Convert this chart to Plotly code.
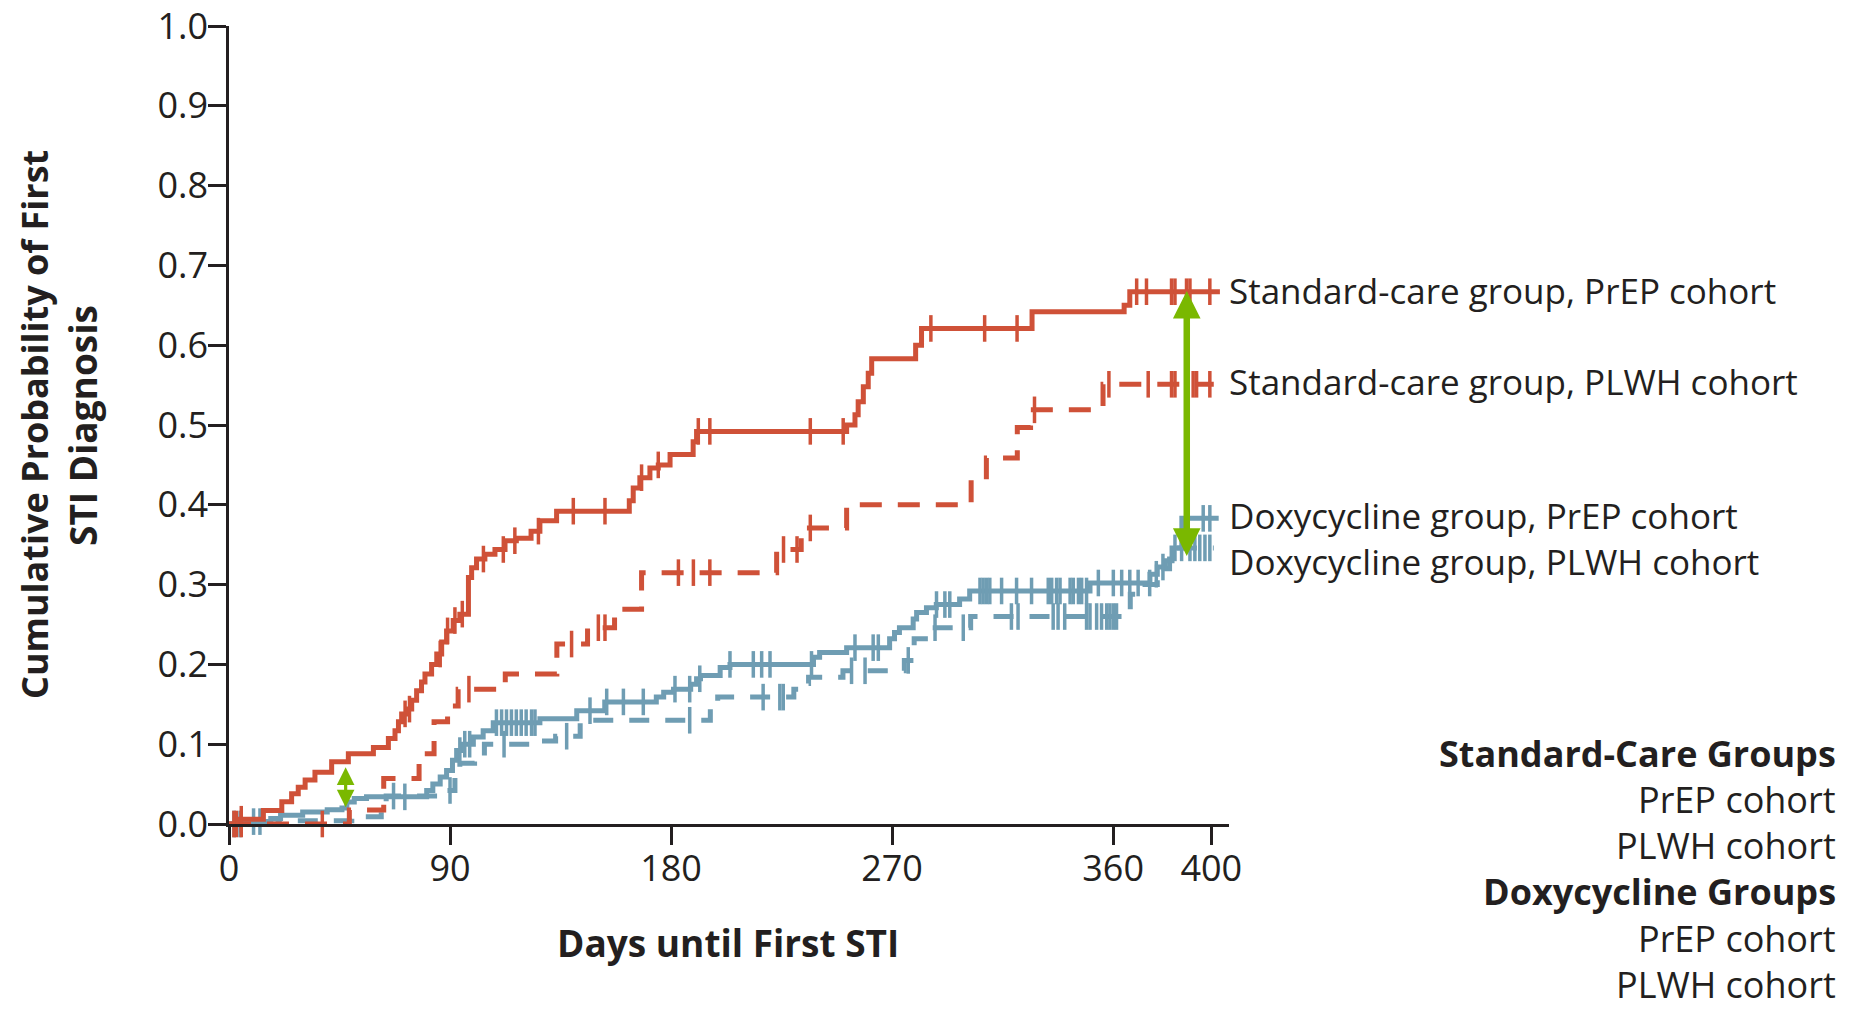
import numpy as np
import plotly.graph_objects as go

RED = "#cf5138"
BLUE = "#6f9db3"
GREEN = "#7ab800"
INK = "#231f20"
FONT = "Open Sans"

# ---------------- data ----------------
x_ticks = [0, 90, 180, 270, 360, 400]
y_ticks = [0.0, 0.1, 0.2, 0.3, 0.4, 0.5, 0.6, 0.7, 0.8, 0.9, 1.0]

# Standard-care group, PrEP cohort (solid red)
sc_prep_t = [0, 3, 14, 21.5, 25.5, 28.2, 31, 35, 41.8, 48.6, 58.8, 64.9, 67.6, 69, 70.3, 72.3,
             74.4, 76.4, 78.4, 79.8, 82.5, 84.6, 86.6, 88.6, 91.3, 94, 97.5, 98.8, 100.8, 104.2,
             108.3, 112.4, 117, 123, 126.6, 133.4, 163, 164.6, 167.3, 171.4, 174.8, 179.6, 189,
             190.4, 251.5, 254.9, 256.2, 258.3, 260.3, 261.7, 279.6, 282, 327, 364.5, 366.8]
sc_prep_p = [0, 0.006, 0.017, 0.028, 0.038, 0.046, 0.055, 0.065, 0.078, 0.088, 0.096, 0.107, 0.117,
             0.128, 0.138, 0.144, 0.155, 0.167, 0.178, 0.188, 0.2, 0.213, 0.228, 0.242, 0.255, 0.263,
             0.309, 0.321, 0.332, 0.338, 0.344, 0.355, 0.358, 0.367, 0.38, 0.392, 0.405, 0.421, 0.434,
             0.446, 0.45, 0.463, 0.479, 0.492, 0.50, 0.513, 0.529, 0.548, 0.565, 0.583, 0.60, 0.621,
             0.642, 0.65, 0.667]
sc_prep_end = 403.5
sc_prep_cens = [2, 5, 71.7, 73.5, 86, 89, 92, 95, 103.6, 111.7, 116.4, 126, 140.2, 153.1, 168,
                174.8, 191.1, 195.8, 236.7, 250.1, 285.8, 307.7, 320.9, 369.6, 373.6, 383.8, 385.2,
                389.9, 391.3, 399.4]

# Standard-care group, PLWH cohort (dashed red)
sc_plwh_t = [0, 49, 63, 77.4, 83.5, 89, 93.3, 112.5, 133.5, 146, 157, 168, 223, 233, 251.5, 302.2,
             308.4, 321, 326.4, 355.9]
sc_plwh_p = [0, 0.0175, 0.057, 0.088, 0.128, 0.148, 0.169, 0.188, 0.2255, 0.246, 0.269, 0.315,
             0.344, 0.371, 0.40, 0.435, 0.4586, 0.497, 0.519, 0.551]
sc_plwh_end = 401
sc_plwh_cens = [3, 5, 38, 97.7, 139.5, 150.4, 153.1, 183, 189.1, 195.8, 225.8, 231.3, 236.7, 328,
                358.3, 374.3, 383.8, 385.2, 392.6, 394, 399.4]

# Doxycycline group, PrEP cohort (solid blue)
dx_prep_t = [0, 5, 17, 21, 30, 40, 46, 48, 51, 56, 80.5, 83, 86, 88.6, 91, 92.7, 95, 99.5, 103.5,
             107.6, 126.6, 141.6, 153, 174, 177, 181, 188, 190.4, 192, 200, 204, 238, 240.5, 251.5,
             269, 271, 273, 278.6, 280, 284, 288, 297.5, 301.6, 350.6, 375, 378, 381, 384, 388]
dx_prep_p = [0, 0.003, 0.007, 0.011, 0.015, 0.018, 0.02, 0.0275, 0.032, 0.034, 0.042, 0.05, 0.059,
             0.067, 0.08, 0.092, 0.1, 0.109, 0.117, 0.127, 0.132, 0.142, 0.153, 0.159, 0.165, 0.169,
             0.175, 0.182, 0.186, 0.196, 0.2, 0.209, 0.215, 0.221, 0.232, 0.24, 0.246, 0.257, 0.265,
             0.271, 0.275, 0.282, 0.292, 0.302, 0.313, 0.322, 0.33, 0.346, 0.383]
dx_prep_end = 403
dx_prep_cens = [2, 4.5, 10, 12.6, 71.6, 94, 96, 98, 108.9, 111, 113, 115, 117, 119, 121, 123.2,
                124.6, 147, 153.8, 160.6, 168.7, 181.6, 187.6, 191.7, 204, 213.5, 216.9, 220.3,
                237.2, 254.9, 262.3, 264.4, 288.1, 291.5, 293.5, 305.8, 307.1, 308.5, 309.8, 314.6,
                320.7, 326.8, 333.6, 335, 337, 338.4, 342.5, 343.8, 345.9, 347.2, 349.2, 354, 360.1,
                363.5, 366.8, 370.2, 374.9, 377.6, 380.3, 396.7, 399.4]

# Doxycycline group, PLWH cohort (dashed blue)
dx_plwh_t = [0, 20, 50, 62, 64, 88, 92, 94, 100, 104, 124, 133, 143, 196, 199, 230, 232, 236, 250,
             275, 279, 286, 302, 367, 372, 378, 383]
dx_plwh_p = [0, 0.004, 0.009, 0.022, 0.035, 0.042, 0.06, 0.076, 0.085, 0.1, 0.104, 0.11, 0.13,
             0.146, 0.159, 0.169, 0.176, 0.184, 0.192, 0.205, 0.232, 0.246, 0.26, 0.288, 0.30, 0.32,
             0.346]
dx_plwh_end = 401
dx_plwh_cens = [67, 90, 112, 137.5, 187.6, 217.5, 224.3, 225.7, 253.5, 259, 276.6, 287.5, 299,
                318.6, 321.3, 335.6, 337.6, 340.3, 349.2, 350.6, 353.3, 355.3, 357.4, 358.7, 360.1,
                361.4, 385.2, 387.9, 391.3, 393.3, 395.3, 397.4, 399.4]

curve_labels = ["Standard-care group, PrEP cohort", "Standard-care group, PLWH cohort",
                "Doxycycline group, PrEP cohort", "Doxycycline group, PLWH cohort"]
curve_label_y = [0.668, 0.554, 0.387, 0.329]

legend_lines = [("Standard-Care Groups", True), ("PrEP cohort", False), ("PLWH cohort", False),
                ("Doxycycline Groups", True), ("PrEP cohort", False), ("PLWH cohort", False)]

# ---------------- figure ----------------
W, H = 1850, 1009
L, R, T, B = 229, 621, 26, 185
PW, PH = W - L - R, H - T - B
X_MAX = 407.2


def px_x(px):
    return (px - L) / PW


def px_y(py):
    return (H - B - py) / PH


def step_at(t, p, c):
    idx = np.searchsorted(np.asarray(t), np.asarray(c), side="right") - 1
    return np.asarray(p)[idx]


series = [
    ("Doxycycline group, PLWH cohort", dx_plwh_t, dx_plwh_p, dx_plwh_end, dx_plwh_cens, BLUE, "20px,16px"),
    ("Doxycycline group, PrEP cohort", dx_prep_t, dx_prep_p, dx_prep_end, dx_prep_cens, BLUE, "solid"),
    ("Standard-care group, PLWH cohort", sc_plwh_t, sc_plwh_p, sc_plwh_end, sc_plwh_cens, RED, "22px,16px"),
    ("Standard-care group, PrEP cohort", sc_prep_t, sc_prep_p, sc_prep_end, sc_prep_cens, RED, "solid"),
]

fig = go.Figure()
for name, t, p, end, cens, color, dash in series:
    fig.add_trace(go.Scatter(
        x=list(t) + [end], y=list(p) + [p[-1]], mode="lines", name=name,
        line=dict(shape="hv", color=color, width=5, dash=dash), showlegend=False,
        hoverinfo="skip"))
    fig.add_trace(go.Scatter(
        x=cens, y=step_at(t, p, cens), mode="markers", name=name + " (censored)",
        marker=dict(symbol="line-ns", size=19, line=dict(width=3.5, color=color)),
        showlegend=False, cliponaxis=False, hoverinfo="skip"))

ann = []
for txt, yv in zip(curve_labels, curve_label_y):
    ann.append(dict(x=px_x(1227), xref="paper", y=yv, yref="y", text=txt, showarrow=False,
                    xanchor="left", yanchor="middle", font=dict(family=FONT, size=35, color=INK)))

leg_y = [753, 799, 845, 892, 938, 984]
for (txt, bold), py in zip(legend_lines, leg_y):
    ann.append(dict(x=px_x(1838), xref="paper", y=px_y(py), yref="paper",
                    text=f"<b>{txt}</b>" if bold else txt, showarrow=False,
                    xanchor="right", yanchor="middle",
                    font=dict(family=FONT, size=36, color=INK)))

# axis titles
ann.append(dict(x=px_x(728), xref="paper", y=px_y(942), yref="paper", text="<b>Days until First STI</b>",
                showarrow=False, xanchor="center", yanchor="middle",
                font=dict(family=FONT, size=37, color=INK)))
ann.append(dict(x=px_x(34), xref="paper", y=px_y(425), yref="paper",
                text="<b>Cumulative Probability of First</b>", textangle=-90, showarrow=False,
                xanchor="center", yanchor="middle", font=dict(family=FONT, size=36, color=INK)))
ann.append(dict(x=px_x(82), xref="paper", y=px_y(426), yref="paper",
                text="<b>STI Diagnosis</b>", textangle=-90, showarrow=False,
                xanchor="center", yanchor="middle", font=dict(family=FONT, size=37, color=INK)))

# green double arrows
ann.append(dict(x=390, y=0.668, ax=390, ay=0.334, xref="x", yref="y", axref="x", ayref="y",
                text="", showarrow=True, arrowside="end+start", arrowhead=2, startarrowhead=2,
                arrowsize=0.85, startarrowsize=0.85, arrowwidth=6.5, arrowcolor=GREEN))
ann.append(dict(x=47.5, y=0.071, ax=47.5, ay=0.019, xref="x", yref="y", axref="x", ayref="y",
                text="", showarrow=True, arrowside="end+start", arrowhead=2, startarrowhead=2,
                arrowsize=1.1, startarrowsize=1.1, arrowwidth=3.2, arrowcolor=GREEN))

axis_common = dict(showgrid=False, zeroline=False, showline=True, linewidth=2.5, linecolor=INK,
                   ticks="outside", ticklen=18, tickwidth=2.5, tickcolor=INK,
                   ticklabeloverflow="allow",
                   tickfont=dict(family=FONT, size=36, color=INK))

fig.update_layout(
    width=W, height=H, margin=dict(l=L, r=R, t=T, b=B, autoexpand=False),
    paper_bgcolor="white", plot_bgcolor="white", showlegend=False,
    xaxis=dict(range=[0, X_MAX], tickvals=x_ticks, ticktext=[str(v) for v in x_ticks],
               ticklabelstandoff=-7, **axis_common),
    yaxis=dict(range=[0, 1], tickvals=y_ticks, ticktext=[f"{v:.1f}" for v in y_ticks],
               ticklabelstandoff=-7, **axis_common),
    annotations=ann,
)

fig.write_html("out.html", config={"displayModeBar": False},
               post_script="document.body.style.margin='0';document.body.style.overflow='hidden';")
